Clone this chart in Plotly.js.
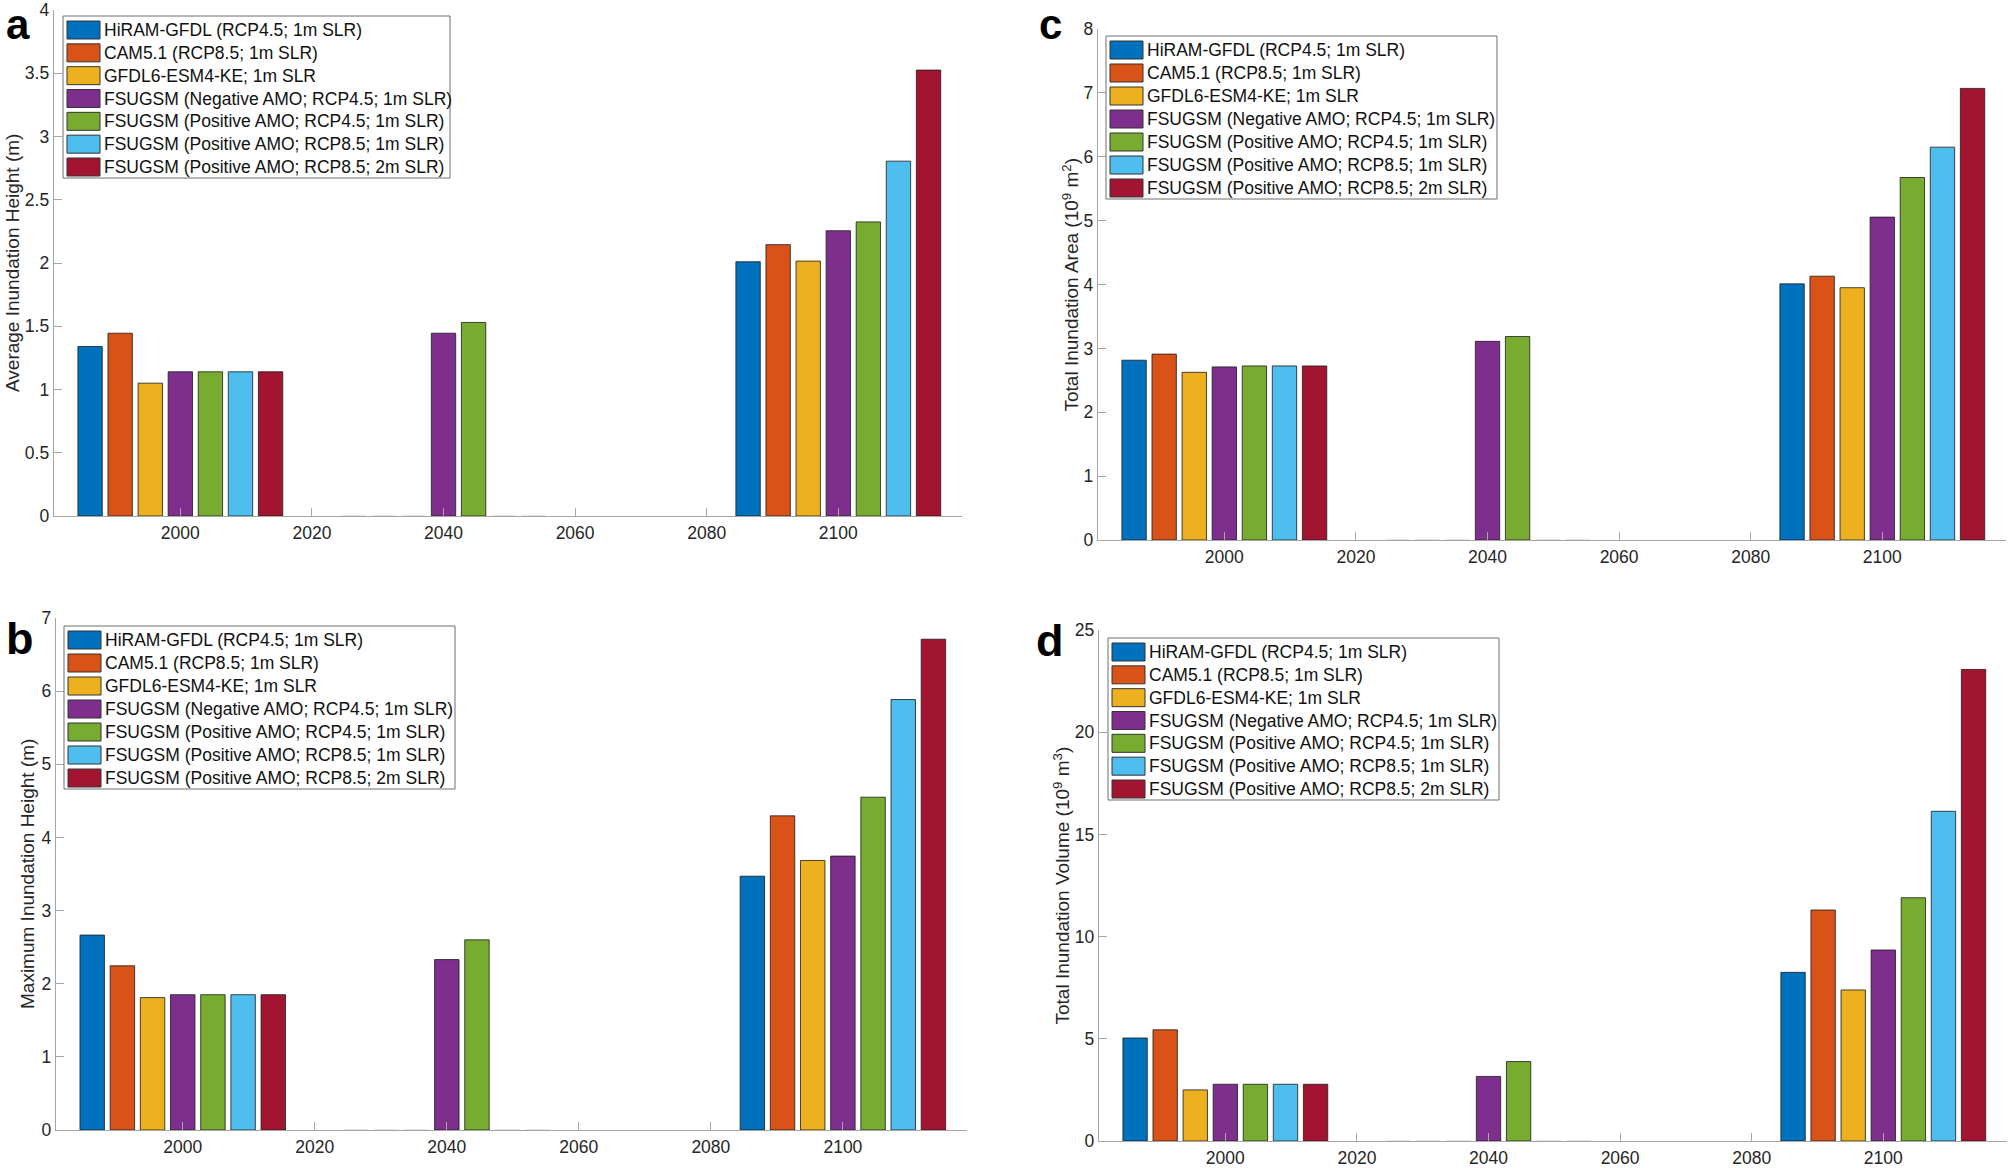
<!DOCTYPE html>
<html>
<head>
<meta charset="utf-8">
<script src="https://cdn.plot.ly/plotly-3.0.1.min.js"></script>
<style>
  html, body { margin: 0; padding: 0; background: #ffffff; }
  #chart { width: 2012px; height: 1168px; }
</style>
</head>
<body>
<div id="chart"></div>
<script>
// ---------------- DATA ----------------
const years = [2000, 2040, 2100];
const tickYears = [2000, 2020, 2040, 2060, 2080, 2100];
const seriesNames = [
  "HiRAM-GFDL (RCP4.5; 1m SLR)",
  "CAM5.1 (RCP8.5; 1m SLR)",
  "GFDL6-ESM4-KE; 1m SLR",
  "FSUGSM (Negative AMO; RCP4.5; 1m SLR)",
  "FSUGSM (Positive AMO; RCP4.5; 1m SLR)",
  "FSUGSM (Positive AMO; RCP8.5; 1m SLR)",
  "FSUGSM (Positive AMO; RCP8.5; 2m SLR)"
];
const seriesColors = ["#0072BD", "#D95319", "#EDB120", "#7E2F8E", "#77AC30", "#4DBEEE", "#A2142F"];

// values per series at [2000, 2040, 2100]
const avgHeight = [
  [1.34, 0, 2.01],
  [1.445, 0, 2.145],
  [1.05, 0, 2.015],
  [1.14, 1.445, 2.255],
  [1.14, 1.53, 2.325],
  [1.14, 0, 2.805],
  [1.14, 0, 3.525]
];
const maxHeight = [
  [2.665, 0, 3.47],
  [2.245, 0, 4.295],
  [1.81, 0, 3.685],
  [1.85, 2.33, 3.745],
  [1.85, 2.6, 4.55],
  [1.85, 0, 5.885],
  [1.85, 0, 6.71]
];
const totalArea = [
  [2.815, 0, 4.01],
  [2.91, 0, 4.13],
  [2.625, 0, 3.95],
  [2.71, 3.11, 5.055],
  [2.725, 3.185, 5.675],
  [2.725, 0, 6.15],
  [2.725, 0, 7.07]
];
const totalVolume = [
  [5.04, 0, 8.25],
  [5.44, 0, 11.3],
  [2.5, 0, 7.39],
  [2.775, 3.16, 9.345],
  [2.775, 3.885, 11.9],
  [2.775, 0, 16.13],
  [2.775, 0, 23.07]
];

// ---------------- LAYOUT CONFIG ----------------
const W = 2012, H = 1168;
const px = x => x / W;
const py = y => 1 - y / H;

const panels = [
  { key: "", letter: "a", values: avgHeight, yrange: [0, 4], dtick: 0.5,
    title: "Average Inundation Height (m)",
    box: [54, 10, 962, 516], titleX: 12, letterPos: [18, 25], letterSize: 42, legend: [63, 16, 450, 178] },
  { key: "2", letter: "c", values: totalArea, yrange: [0, 8], dtick: 1,
    title: "Total Inundation Area (10<sup>9</sup> m<sup>2</sup>)",
    box: [1098, 29, 2006, 540], titleX: 1071, letterPos: [1050, 25], letterSize: 42, legend: [1106, 36, 1497, 199] },
  { key: "3", letter: "b", values: maxHeight, yrange: [0, 7], dtick: 1,
    title: "Maximum Inundation Height (m)",
    box: [56, 618, 967, 1130], titleX: 27, letterPos: [20, 638], letterSize: 45, legend: [64, 626, 455, 789] },
  { key: "4", letter: "d", values: totalVolume, yrange: [0, 25], dtick: 5,
    title: "Total Inundation Volume (10<sup>9</sup> m<sup>3</sup>)",
    box: [1099, 630, 2007, 1141], titleX: 1061, letterPos: [1050, 640], letterSize: 45, legend: [1108, 638, 1499, 800] }
];

const FONT = "Liberation Sans, Arial, Helvetica, sans-serif";
const AXIS_GRAY = "#a6a6a6";
const TEXT_DARK = "#262626";

const traces = [];
const shapes = [];
const annotations = [];
const layout = {
  width: W, height: H,
  margin: { l: 0, r: 0, t: 0, b: 0, pad: 0 },
  paper_bgcolor: "#ffffff",
  plot_bgcolor: "#ffffff",
  barmode: "group",
  bargap: 0.2,
  bargroupgap: 0.19,
  showlegend: false,
  font: { family: FONT, color: TEXT_DARK }
};

panels.forEach(p => {
  const xName = "xaxis" + p.key, yName = "yaxis" + p.key;
  const xRef = "x" + p.key, yRef = "y" + p.key;
  const [x0, y0, x1, y1] = p.box;

  p.values.forEach((vals, i) => {
    traces.push({
      type: "bar",
      x: years,
      y: vals,
      name: seriesNames[i],
      xaxis: xRef, yaxis: yRef,
      marker: {
        color: seriesColors[i],
        line: { color: vals.map(v => v === 0 ? "rgba(190,190,190,0.6)" : "#1a1a1a"), width: 0.8 }
      },
      showlegend: false,
      hoverinfo: "x+y+name"
    });
  });

  layout[xName] = {
    domain: [px(x0), px(x1)],
    anchor: yRef,
    range: [1980.8, 2118.8],
    tickmode: "array",
    tickvals: tickYears,
    ticktext: tickYears.map(String),
    ticks: "inside", ticklen: 8, tickwidth: 1, tickcolor: AXIS_GRAY,
    showline: true, linecolor: AXIS_GRAY, linewidth: 1.3,
    showgrid: false, zeroline: false,
    tickfont: { family: FONT, size: 17.5, color: TEXT_DARK },
    ticklabelstandoff: 1,
    ticklabeloverflow: "allow",
    fixedrange: true
  };
  layout[yName] = {
    domain: [py(y1), py(y0)],
    anchor: xRef,
    range: p.yrange,
    dtick: p.dtick, tick0: 0,
    ticks: "inside", ticklen: 8, tickwidth: 1, tickcolor: AXIS_GRAY,
    showline: true, linecolor: AXIS_GRAY, linewidth: 1.3,
    showgrid: false, zeroline: false,
    tickfont: { family: FONT, size: 17.5, color: TEXT_DARK },
    ticklabelstandoff: 0,
    ticklabeloverflow: "allow",
    fixedrange: true
  };

  // y-axis title
  annotations.push({
    xref: "paper", yref: "paper",
    x: px(p.titleX), y: py((y0 + y1) / 2),
    xanchor: "center", yanchor: "middle",
    text: p.title, textangle: -90, showarrow: false,
    font: { family: FONT, size: 19, color: TEXT_DARK }
  });

  // panel letter
  annotations.push({
    xref: "paper", yref: "paper",
    x: px(p.letterPos[0]), y: py(p.letterPos[1]),
    xanchor: "center", yanchor: "middle",
    text: "<b>" + p.letter + "</b>", showarrow: false,
    font: { family: FONT, size: p.letterSize, color: "#000000" }
  });

  // custom legend
  const [lx0, ly0, lx1, ly1] = p.legend;
  shapes.push({
    type: "rect", xref: "paper", yref: "paper",
    x0: px(lx0), x1: px(lx1), y0: py(ly1), y1: py(ly0),
    line: { color: "#6e6e6e", width: 1 }, fillcolor: "#ffffff", layer: "above"
  });
  const pitch = (ly1 - ly0 - 25) / 6;
  seriesNames.forEach((nm, i) => {
    const cy = ly0 + 14 + i * pitch;
    shapes.push({
      type: "rect", xref: "paper", yref: "paper",
      x0: px(lx0 + 4), x1: px(lx0 + 37), y0: py(cy + 9), y1: py(cy - 9),
      line: { color: "#333333", width: 1 }, fillcolor: seriesColors[i], layer: "above"
    });
    annotations.push({
      xref: "paper", yref: "paper",
      x: px(lx0 + 39), y: py(cy),
      xanchor: "left", yanchor: "middle",
      text: nm, showarrow: false,
      font: { family: FONT, size: 17.5, color: "#111111" }
    });
  });
});

layout.shapes = shapes;
layout.annotations = annotations;

Plotly.newPlot("chart", traces, layout, { displayModeBar: false, staticPlot: true });
</script>
</body>
</html>
